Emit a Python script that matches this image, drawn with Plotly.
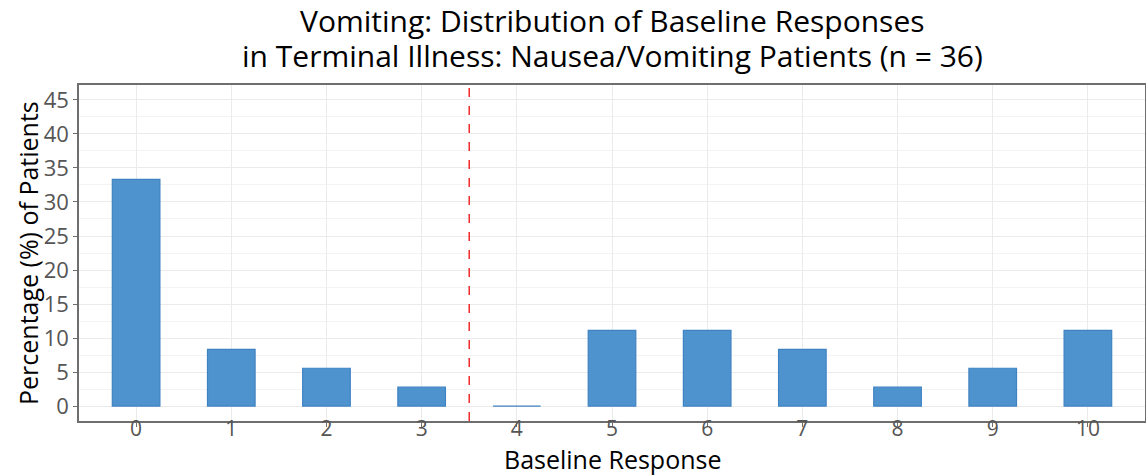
import plotly.graph_objects as go

responses = [0, 1, 2, 3, 4, 5, 6, 7, 8, 9, 10]
counts = [12, 3, 2, 1, 0, 4, 4, 3, 1, 2, 4]
n_total = 36
percentages = [c / n_total * 100 for c in counts]
cutoff = 3.5
y_ticks = [0, 5, 10, 15, 20, 25, 30, 35, 40, 45]

title_lines = ["Vomiting: Distribution of Baseline Responses",
               "in Terminal Illness: Nausea/Vomiting Patients (n = 36)"]

fig = go.Figure()
fig.add_trace(go.Bar(
    x=responses, y=percentages, width=0.5,
    marker=dict(color="#4F93CE", line=dict(color="#3F82C2", width=1.2)),
))
# invisible companion trace so the tick-label axis (x2) is rendered
fig.add_trace(go.Scatter(
    x=responses, y=percentages, xaxis="x2", yaxis="y", mode="markers",
    marker=dict(opacity=0, size=1), hoverinfo="skip", showlegend=False,
))
fig.add_vline(x=cutoff, line=dict(color="#F02A2A", width=1.5, dash="dash"))

font = "Open Sans, Liberation Sans, sans-serif"

fig.add_annotation(text=title_lines[0], xref="paper", yref="paper", x=0.5, y=1.0,
                   yshift=65, showarrow=False, xanchor="center", yanchor="middle",
                   font=dict(size=30, color="black", family=font))
fig.add_annotation(text=title_lines[1], xref="paper", yref="paper", x=0.5, y=1.0,
                   yshift=30, showarrow=False, xanchor="center", yanchor="middle",
                   font=dict(size=30, color="black", family=font))
fig.add_annotation(text="Baseline Response", xref="paper", yref="paper", x=0.5, y=0,
                   yshift=-38, showarrow=False, xanchor="center", yanchor="middle",
                   font=dict(size=25, color="black", family=font))
fig.add_annotation(text="Percentage (%) of Patients", xref="paper", yref="paper", x=0, y=0.5,
                   xshift=-51, showarrow=False, xanchor="center", yanchor="middle", textangle=-90,
                   font=dict(size=25, color="black", family=font))

fig.update_layout(
    width=1146, height=476,
    margin=dict(l=79, r=1, t=85, b=55, autoexpand=False),
    paper_bgcolor="white", plot_bgcolor="white",
    showlegend=False,
    font=dict(family=font),
    xaxis=dict(
        range=[-0.6, 10.6], tickmode="array", tickvals=responses,
        showticklabels=False,
        showgrid=True, gridcolor="#EBEBEB", gridwidth=1,
        showline=True, linecolor="#6E6E6E", linewidth=1.5, mirror=True,
        ticks="outside", ticklen=4, tickcolor="#6E6E6E", tickwidth=1.2,
        zeroline=False, automargin=False,
    ),
    xaxis2=dict(
        range=[-0.6, 10.6], overlaying="x", anchor="free", position=0.021, side="bottom",
        tickmode="array", tickvals=responses, ticktext=[str(r) for r in responses],
        tickfont=dict(size=21, color="#555555"),
        showgrid=False, showline=False, zeroline=False, ticks="",
        automargin=False,
    ),
    yaxis=dict(
        range=[-2.2, 47.2], tickmode="array", tickvals=y_ticks,
        showgrid=True, gridcolor="#EBEBEB", gridwidth=1,
        minor=dict(dtick=2.5, tick0=0, showgrid=True, gridcolor="#F4F4F4", ticks=""),
        showline=True, linecolor="#6E6E6E", linewidth=1.5, mirror=True,
        ticks="outside", ticklen=4, tickcolor="#6E6E6E",
        tickfont=dict(size=22, color="#555555"),
        zeroline=False, automargin=False,
    ),
)
fig.write_html("out.html", config={"displayModeBar": False},
               post_script="document.body.style.margin='0';document.body.style.overflow='hidden';")
